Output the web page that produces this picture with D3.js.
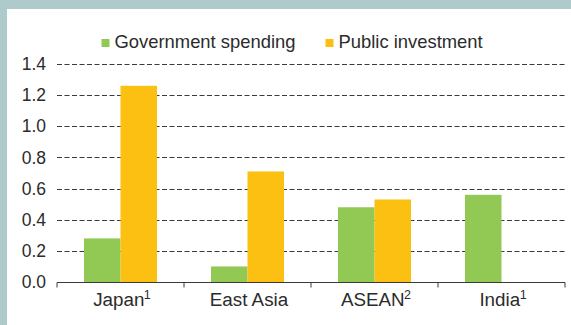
<!DOCTYPE html>
<html>
<head>
<meta charset="utf-8">
<script src="https://cdn.jsdelivr.net/npm/d3@7"></script>
<style>
  html, body { margin: 0; padding: 0; background: #fff; }
  svg { display: block; }
  text { font-family: "Liberation Sans", Arial, Helvetica, sans-serif; fill: #2b2b2b; }
</style>
</head>
<body>
<svg id="chart" width="571" height="325"></svg>
<script>
// Regions, with footnote markers shown as superscripts
const categories = ["Japan", "East Asia", "ASEAN", "India"];
const footnotes = ["1", "", "2", "1"];
const seriesNames = ["Government spending", "Public investment"];
const governmentSpending = [0.28, 0.10, 0.48, 0.56];
const publicInvestment = [1.26, 0.71, 0.53, null];
const yTicks = [0, 0.2, 0.4, 0.6, 0.8, 1.0, 1.2, 1.4];

const colors = ["#92c955", "#fbc012"];
const seriesValues = [governmentSpending, publicInvestment];

const svg = d3.select("#chart");
const W = 571, H = 325;
const frame = "#afcaca";

// Frame: band across the top and along the left edge
svg.append("rect").attr("x", 0).attr("y", 0).attr("width", W).attr("height", H).attr("fill", "#fff");
svg.append("rect").attr("x", 0).attr("y", 0).attr("width", W).attr("height", 9).attr("fill", frame);
svg.append("rect").attr("x", 0).attr("y", 0).attr("width", 7).attr("height", H).attr("fill", frame);

const plot = { left: 57, right: 565, top: 64, bottom: 282 };

const x0 = d3.scaleBand().domain(categories).range([plot.left, plot.right]).padding(0);
const x1 = d3.scaleBand().domain(seriesNames).range([0, x0.bandwidth()])
  .paddingInner(0).paddingOuter(0.74);
const y = d3.scaleLinear().domain([0, 1.4]).range([plot.bottom, plot.top]);

// Dashed horizontal gridlines
svg.append("g")
  .selectAll("line")
  .data(yTicks.filter(d => d > 0))
  .join("line")
  .attr("x1", plot.left).attr("x2", plot.right)
  .attr("y1", d => Math.round(y(d)) + 0.5).attr("y2", d => Math.round(y(d)) + 0.5)
  .attr("stroke", "#3a3a3a").attr("stroke-width", 1)
  .attr("stroke-dasharray", "5,2.5");

// Y tick labels
const yAxis = d3.axisLeft(y).tickValues(yTicks).tickFormat(d3.format(".1f")).tickSize(0).tickPadding(11);
const gy = svg.append("g").attr("transform", `translate(${plot.left},0)`).call(yAxis);
gy.select(".domain").remove();
gy.selectAll("text").attr("font-size", 17.5).attr("fill", "#2b2b2b")
  .style("font-family", "'Liberation Sans', Arial, sans-serif");

// Bars
const rows = categories.map((c, i) => ({ cat: c, vals: seriesValues.map((s, k) => ({ key: seriesNames[k], v: s[i], k })) }));
svg.append("g")
  .selectAll("g")
  .data(rows)
  .join("g")
  .attr("transform", d => `translate(${x0(d.cat)},0)`)
  .selectAll("rect")
  .data(d => d.vals.filter(v => v.v != null))
  .join("rect")
  .attr("x", d => x1(d.key))
  .attr("width", x1.bandwidth())
  .attr("y", d => y(d.v))
  .attr("height", d => y(0) - y(d.v))
  .attr("fill", d => colors[d.k]);

// X axis with category labels
const xAxis = d3.axisBottom(x0).tickSize(0).tickFormat("");
const gx = svg.append("g").attr("transform", `translate(0,${Math.round(y(0)) + 0.5})`).call(xAxis);
gx.select(".domain").attr("stroke", "#3a3a3a").attr("d", `M${plot.left},0H${plot.right}`);
// Boundary ticks between categories
const bounds = categories.map(c => x0(c)).concat([plot.right]);
gx.selectAll(".bound").data(bounds).join("line").attr("class", "bound")
  .attr("x1", d => d).attr("x2", d => d).attr("y1", 0).attr("y2", 5)
  .attr("stroke", "#3a3a3a").attr("stroke-width", 1);

const labels = svg.append("g").selectAll("text").data(categories).join("text")
  .attr("x", d => x0(d) + x0.bandwidth() / 2 + 1.5)
  .attr("y", 305.5)
  .attr("text-anchor", "middle")
  .attr("font-size", 18.8);
labels.append("tspan").text(d => d);
labels.append("tspan")
  .text((d, i) => footnotes[i])
  .attr("font-size", 12.5)
  .attr("dx", -0.5)
  .attr("dy", -6.5);

// Legend
const legendX = [101.5, 325.5];
const legend = svg.append("g").selectAll("g").data(seriesNames).join("g")
  .attr("transform", (d, i) => `translate(${legendX[i]},39)`);
legend.append("rect").attr("width", 8).attr("height", 8).attr("fill", (d, i) => colors[i]);
legend.append("text").attr("x", 13).attr("y", 8.5).attr("font-size", 18.4).text(d => d);
</script>
</body>
</html>
